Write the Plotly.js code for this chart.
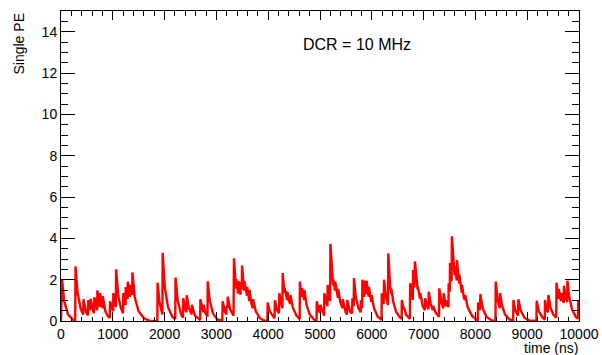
<!DOCTYPE html>
<html>
<head>
<meta charset="utf-8">
<script src="https://cdn.plot.ly/plotly-3.0.1.min.js"></script>
<style>html,body{margin:0;padding:0;background:#fff;}#chart{width:602px;height:355px;}</style>
</head>
<body>
<div id="chart"></div>
<script>
// Waveform vertices (time in ns, amplitude in single PE)
const timeNs = [
0,20,62,134,238,274,281,320,382,429,434,486,522,527,563,573,620,638,644,682,699,702,739,751,754,790,804,807,857,909,942,946,992,1007,1010,1054,1060,1064,1105,1157,1198,1203,1240,1247,1250,1281,1286,1289,1322,1333,1336,1364,1374,1379,1426,1498,1601,1704,1756,1860,
1865,1901,1932,1958,1963,2004,2066,2149,2206,2211,2252,2314,2355,2360,2397,2422,2428,2469,2521,2526,2583,2686,
2691,2727,2748,2753,2789,2828,2833,2872,2934,3016,3114,3120,3161,3192,3197,3213,3218,3264,3331,3339,3373,3378,3383,3409,3419,3424,3455,3466,3471,3490,3495,3528,3538,3543,3574,3590,3595,3626,3636,3641,3677,3703,3709,3760,3843,3925,
3985,3990,4029,4122,4130,4173,4209,4215,4256,4275,4280,4308,4313,4318,4349,4364,4370,4401,4426,4432,4473,4545,4607,4612,4638,4649,4654,4679,4695,4700,4741,4803,4886,4933,4937,4979,5000,5005,5062,5080,5084,5124,5144,5148,5186,5196,5201,5237,5253,5258,5279,5289,5294,5330,5346,5351,5392,5434,5439,5496,
5521,5527,5578,5620,5625,5651,5656,5692,5743,5785,5790,5814,5818,5847,5857,5862,5888,5893,5898,5929,5940,5945,5981,5991,5997,6043,6115,6177,
6188,6192,6229,6236,6270,6312,6319,6353,6374,6379,6415,6467,6529,6575,6580,6611,6616,6663,6735,6740,6776,6792,6797,6823,6833,6869,6885,6890,6921,6931,6937,6983,7024,7030,7066,7095,7099,7138,7179,7185,7231,7298,7303,7345,7381,7386,7427,7438,7443,7479,7484,7505,7510,7531,7541,7546,7582,7598,7603,7629,7639,7644,7675,7686,7691,7727,7737,7742,7778,7799,7804,7851,7933,8016,8047,8051,8078,8088,8096,8140,8212,8316,
8388,8392,8429,8471,8476,8512,8574,8657,8729,8734,8770,8822,8829,8873,8946,9039,9178,9183,9225,9297,9340,9344,9380,9402,9409,9452,9504,9560,9566,9597,9605,9609,9638,9653,9659,9690,9705,9710,9741,9772,9777,9814,9865,9937,9982,9986,10000
];
const singlePE = [
0,2.0,0.95,0.32,0.06,0.05,2.65,1.35,0.58,0.32,1.05,0.42,0.27,1.02,0.52,1.08,0.47,0.37,1.15,0.62,0.52,1.48,0.78,0.68,1.35,0.72,0.62,1.2,0.47,0.22,0.16,0.95,0.52,0.47,1.35,0.72,0.67,2.5,1.23,0.62,0.37,1.35,0.82,0.77,1.65,1.12,1.07,1.9,1.22,1.17,1.75,1.32,1.27,2.35,1.12,0.47,0.13,0.02,0,0,
1.85,0.92,0.52,0.32,3.3,1.63,0.67,0.21,0.1,2.1,1.02,0.36,0.16,1.1,0.57,0.42,1.25,0.62,0.32,0.78,0.27,0.05,
1.05,0.52,0.42,0.78,0.37,0.21,1.92,0.97,0.37,0.08,0.02,0.95,0.47,0.32,0.73,0.62,1.17,0.57,0.26,3.03,1.63,1.58,2.02,1.38,1.33,1.93,1.32,1.27,1.9,1.52,2.68,1.52,1.47,1.9,1.27,1.22,1.65,1.02,0.97,1.5,0.82,0.62,1.05,0.47,0.13,0.02,
0.02,0.9,0.47,0.13,1.0,0.52,0.37,1.34,0.77,0.62,2.32,1.42,1.37,1.6,1.12,1.02,1.42,0.97,0.82,1.25,0.67,0.26,0.1,1.9,1.22,1.17,1.6,1.12,1.02,1.5,0.77,0.31,0.06,0.02,0.95,0.47,0.42,0.78,0.31,0.26,1.34,0.82,0.72,1.74,1.02,0.97,3.73,1.93,1.72,2.0,1.52,1.47,1.9,1.22,1.12,1.55,0.92,0.62,1.05,0.42,
0.31,1.02,0.47,0.37,1.1,0.72,2.07,1.12,0.62,0.42,1.0,0.62,2.0,1.22,1.17,1.95,1.32,1.3,1.95,1.22,1.17,1.65,0.97,0.92,1.25,0.62,0.21,0.08,
0.06,1.34,0.82,2.0,1.22,0.77,3.28,1.72,1.32,1.55,0.92,0.47,0.21,0.1,1.02,0.57,0.68,0.31,0.1,1.83,1.12,1.02,2.47,1.62,2.88,1.62,1.52,1.65,1.12,1.07,1.35,0.72,0.52,1.1,0.72,0.57,1.42,0.82,0.52,0.73,0.42,0.21,1.58,0.87,0.62,1.34,0.77,0.72,1.0,0.67,1.83,1.42,2.8,2.02,1.92,4.1,2.42,2.22,2.65,2.02,1.97,2.95,1.92,1.82,2.25,1.42,1.37,1.75,1.12,1.02,1.25,0.67,0.26,0.08,0.05,0.9,0.57,0.52,1.3,0.62,0.21,0.03,
0.02,1.9,1.02,0.62,1.35,0.77,0.31,0.08,0.02,1.02,0.52,0.26,1.05,0.52,0.16,0.03,0.01,0.98,0.47,0.16,0.07,1.02,0.52,0.42,1.26,0.62,0.31,0.16,1.85,1.12,1.07,1.55,1.02,0.97,1.35,0.92,0.87,1.7,1.12,0.92,1.95,1.12,0.57,0.21,0.1,1.0,0.75
];
const xTickVals = [0,1000,2000,3000,4000,5000,6000,7000,8000,9000,10000];
const xTickText = ["0","1000","2000","3000","4000","5000","6000","7000","8000","9000","10000"];
const yTickVals = [0,2,4,6,8,10,12,14];
const yTickText = ["0","2","4","6","8","10","12","14"];
const xTitle = "time (ns)";
const yTitle = "Single PE";
const label = "DCR = 10 MHz";

const FONT = "Liberation Sans, Arial, Helvetica, sans-serif";

const trace = {
  x: timeNs, y: singlePE, type: 'scatter', mode: 'lines',
  line: {color: '#ff0000', width: 2.4}, hoverinfo: 'skip'
};

const layout = {
  width: 602, height: 355,
  margin: {l: 61, r: 23, t: 11, b: 34, pad: 0},
  paper_bgcolor: '#ffffff', plot_bgcolor: '#ffffff',
  showlegend: false,
  font: {family: FONT, size: 14, color: '#000'},
  xaxis: {
    range: [0, 10000], tickmode: 'array', tickvals: xTickVals, ticktext: xTickText,
    ticks: 'inside', ticklen: 9, tickwidth: 1, tickcolor: '#000',
    minor: {dtick: 200, tick0: 0, ticks: 'inside', ticklen: 4.5, tickwidth: 1, tickcolor: '#000'},
    showline: true, linecolor: '#000', linewidth: 1, mirror: 'ticks',
    showgrid: false, zeroline: false,
    tickfont: {family: FONT, size: 14, color: '#000'}
  },
  yaxis: {
    range: [0, 15], tickmode: 'array', tickvals: yTickVals, ticktext: yTickText,
    ticks: 'inside', ticklen: 14, tickwidth: 1, tickcolor: '#000',
    minor: {dtick: 0.5, tick0: 0, ticks: 'inside', ticklen: 7, tickwidth: 1, tickcolor: '#000'},
    showline: true, linecolor: '#000', linewidth: 1, mirror: 'ticks',
    showgrid: false, zeroline: false,
    tickfont: {family: FONT, size: 14, color: '#000'}
  },
  annotations: [
    {text: label, xref: 'paper', yref: 'paper', x: 0.571, y: 0.8935,
     xanchor: 'center', yanchor: 'middle', showarrow: false,
     font: {family: FONT, size: 16, color: '#000'}},
    {text: xTitle, xref: 'paper', yref: 'paper', x: 1, y: 0,
     xanchor: 'right', yanchor: 'top', yshift: -18, borderpad: 0, showarrow: false,
     font: {family: FONT, size: 14, color: '#000'}},
    {text: yTitle, xref: 'paper', yref: 'paper', x: -0.083, y: 1,
     xanchor: 'center', yanchor: 'top', yshift: -1, textangle: -90, showarrow: false,
     font: {family: FONT, size: 14, color: '#000'}}
  ]
};

Plotly.newPlot('chart', [trace], layout, {staticPlot: true, displayModeBar: false});
</script>
</body>
</html>
